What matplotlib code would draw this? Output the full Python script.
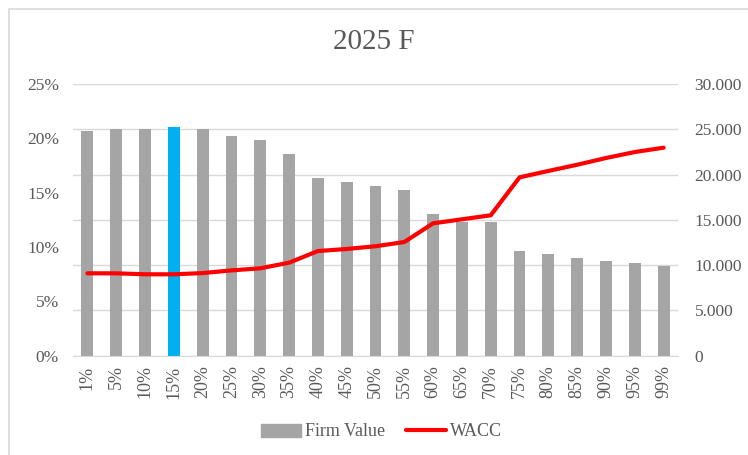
import matplotlib.pyplot as plt
from matplotlib.ticker import FuncFormatter
from matplotlib.patches import Rectangle
from matplotlib.lines import Line2D
import numpy as np

plt.rcParams['font.family'] = ['Liberation Serif', 'DejaVu Serif']

# data
debt_ratio = ['1%', '5%', '10%', '15%', '20%', '25%', '30%', '35%', '40%', '45%', '50%',
              '55%', '60%', '65%', '70%', '75%', '80%', '85%', '90%', '95%', '99%']
firm_value = [24840, 25070, 25070, 25200, 25070, 24260, 23800, 22300, 19650, 19200, 18740,
              18300, 15600, 14800, 14730, 11600, 11260, 10790, 10420, 10240, 9870]
wacc = [7.58, 7.58, 7.49, 7.49, 7.60, 7.85, 8.04, 8.56, 9.63, 9.82, 10.07,
        10.46, 12.18, 12.55, 12.92, 16.41, 17.00, 17.57, 18.19, 18.74, 19.14]
highlight = '15%'

text_col = '#595959'
bar_col = '#A5A5A5'
blue = '#00B0F0'
red = '#FF0000'
grid_col = '#D9D9D9'

fig = plt.figure(figsize=(7.48, 4.55), dpi=100)
# chart area border
fig.patches.append(Rectangle((9 / 748, -0.1), 1.2, 1 - 9 / 455 + 0.1, transform=fig.transFigure,
                             fill=False, edgecolor='#D9D9D9', linewidth=1.2))

ax = fig.add_axes([73 / 748, 1 - 355.7 / 455, (678 - 73) / 748, (355.7 - 84) / 455])
ax2 = ax.twinx()

x = np.arange(len(debt_ratio))
colors = [blue if d == highlight else bar_col for d in debt_ratio]
ax2.bar(x, firm_value, width=0.41, color=colors, zorder=2)
ax2.set_ylim(0, 30000)
ax2.set_yticks(np.arange(0, 30001, 5000))
ax2.yaxis.set_major_formatter(FuncFormatter(lambda v, p: f'{int(v):,}'.replace(',', '.')))

ax.plot(x, wacc, color=red, linewidth=3, solid_capstyle='round', zorder=5)
ax.set_ylim(0, 25)
ax.set_yticks(np.arange(0, 26, 5))
ax.yaxis.set_major_formatter(FuncFormatter(lambda v, p: f'{int(v)}%'))
ax.set_xlim(-0.5, len(x) - 0.5)
ax.set_xticks(x)
ax.set_xticklabels(debt_ratio, rotation=90)

# line on top of bars
ax.set_zorder(ax2.get_zorder() + 1)
ax.patch.set_visible(False)
ax2.grid(axis='y', color=grid_col, linewidth=1, zorder=0)
ax2.set_axisbelow(True)

for a in (ax, ax2):
    for s in a.spines.values():
        s.set_visible(False)
    a.tick_params(length=0, colors=text_col, labelsize=12.5)
ax.spines['bottom'].set_visible(True)
ax.spines['bottom'].set_color(grid_col)
ax.tick_params(axis='y', pad=10)
ax2.tick_params(axis='y', pad=12)
ax.tick_params(axis='x', pad=7, labelsize=13)

fig.text(0.5, 1 - 42 / 455, '2025 F', ha='center', va='center', fontsize=21, color=text_col)

handles = [Rectangle((0, 0), 1, 1, color=bar_col),
           Line2D([0], [0], color=red, linewidth=3, solid_capstyle='round')]
fig.legend(handles, ['Firm Value', 'WACC'], loc='center', bbox_to_anchor=(0.51, 1 - 432 / 455),
           ncol=2, frameon=False, fontsize=13, labelcolor=text_col, handlelength=2.2,
           handletextpad=0.2, columnspacing=1.2)

fig.savefig('out.png', dpi=100)
